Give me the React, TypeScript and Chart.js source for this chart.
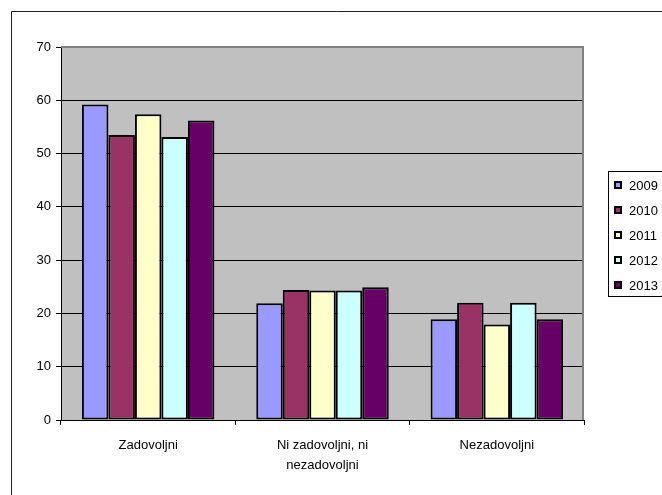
import { useEffect, useRef } from 'react';
import { Chart, registerables } from 'chart.js';
Chart.register(...registerables);

const categories: (string | string[])[] = ['Zadovoljni', ['Ni zadovoljni, ni', 'nezadovoljni'], 'Nezadovoljni'];
const seriesNames = ['2009', '2010', '2011', '2012', '2013'];
const v2009 = [59.2, 21.9, 18.9];
const v2010 = [53.5, 24.4, 22.0];
const v2011 = [57.4, 24.3, 17.9];
const v2012 = [53.1, 24.3, 22.0];
const v2013 = [56.2, 24.9, 18.9];
const yMin = 0;
const yMax = 70;
const yStep = 10;
const seriesColors = ['#9999FF', '#993366', '#FFFFCC', '#CCFFFF', '#660066'];

const FONT = "'Liberation Sans', Arial, sans-serif";

const framePlugin = {
  id: 'frame',
  beforeDraw(chart: any) {
    const { ctx, chartArea: ca } = chart;
    ctx.save();
    ctx.fillStyle = '#ffffff';
    ctx.fillRect(0, 0, chart.width, chart.height);
    ctx.strokeStyle = '#222222';
    ctx.lineWidth = 1;
    ctx.beginPath();
    ctx.moveTo(11.5, chart.height + 5);
    ctx.lineTo(11.5, 11.5);
    ctx.lineTo(chart.width + 5, 11.5);
    ctx.stroke();
    ctx.fillStyle = '#C0C0C0';
    ctx.fillRect(ca.left, ca.top, ca.right - ca.left, ca.bottom - ca.top);
    ctx.restore();
  },
  afterDatasetsDraw(chart: any) {
    const { ctx, chartArea: ca } = chart;
    ctx.save();
    ctx.strokeStyle = '#808080';
    ctx.lineWidth = 2;
    ctx.beginPath();
    ctx.moveTo(ca.left, ca.top);
    ctx.lineTo(ca.right - 1, ca.top);
    ctx.lineTo(ca.right - 1, ca.bottom);
    ctx.stroke();
    ctx.restore();
  },
  afterDraw(chart: any) {
    const { ctx, chartArea: ca } = chart;
    const ds = chart.data.datasets;
    const boxW = 70;
    const itemGap = 25;
    const boxH = itemGap * ds.length;
    const x0 = Math.round(ca.right + 24) + 0.5;
    const y0 = Math.round((ca.top + ca.bottom) / 2 - boxH / 2) + 0.5;
    ctx.save();
    ctx.strokeStyle = '#000';
    ctx.lineWidth = 1;
    ctx.strokeRect(x0, y0, boxW, boxH);
    ctx.font = `13px ${FONT}`;
    ctx.textBaseline = 'middle';
    ctx.textAlign = 'left';
    ds.forEach((d: any, i: number) => {
      const cy = Math.round(y0 + 13 + i * itemGap);
      ctx.fillStyle = '#000';
      ctx.fillRect(x0 + 5.5, cy - 4, 8, 8);
      ctx.fillStyle = d.backgroundColor;
      ctx.fillRect(x0 + 7.5, cy - 2, 4, 4);
      ctx.fillStyle = '#000';
      ctx.fillText(d.label, x0 + 20.5, cy + 1);
    });
    ctx.restore();
  },
};

export default function App() {
  const ref = useRef<HTMLCanvasElement>(null);
  useEffect(() => {
    if (!ref.current) return;
    const values = [v2009, v2010, v2011, v2012, v2013];
    const chart = new Chart(ref.current, {
      type: 'bar',
      data: {
        labels: categories,
        datasets: seriesNames.map((name, i) => ({
          label: name,
          data: values[i],
          backgroundColor: seriesColors[i],
          borderColor: '#000000',
          borderWidth: 2,
          borderSkipped: false,
          barPercentage: 1,
          categoryPercentage: 0.76,
        })),
      },
      options: {
        animation: false,
        responsive: false,
        maintainAspectRatio: false,
        devicePixelRatio: 1,
        layout: { padding: { left: 0, top: 47, right: 78, bottom: 0 } },
        plugins: { legend: { display: false }, tooltip: { enabled: false } },
        scales: {
          x: {
            offset: true,
            grid: { drawOnChartArea: false, drawTicks: true, tickLength: 5, color: '#000', offset: true },
            border: { color: '#000', width: 1 },
            ticks: { color: '#000', font: { family: FONT, size: 13, lineHeight: 20 / 13 }, padding: 10, maxRotation: 0, autoSkip: false },
            afterFit: (s: any) => { s.height = 75; },
          },
          y: {
            min: yMin,
            max: yMax,
            grid: { color: '#000', lineWidth: 1, tickLength: 5 },
            border: { color: '#000', width: 1 },
            ticks: { stepSize: yStep, color: '#000', font: { family: FONT, size: 13 }, padding: 5 },
            afterFit: (s: any) => { s.width = 61; },
          },
        },
      },
      plugins: [framePlugin],
    });
    return () => chart.destroy();
  }, []);
  return (
    <div style={{ position: 'fixed', left: 0, top: 0, width: 662, height: 495 }}>
      <canvas ref={ref} width={662} height={495} style={{ width: 662, height: 495 }} />
    </div>
  );
}
